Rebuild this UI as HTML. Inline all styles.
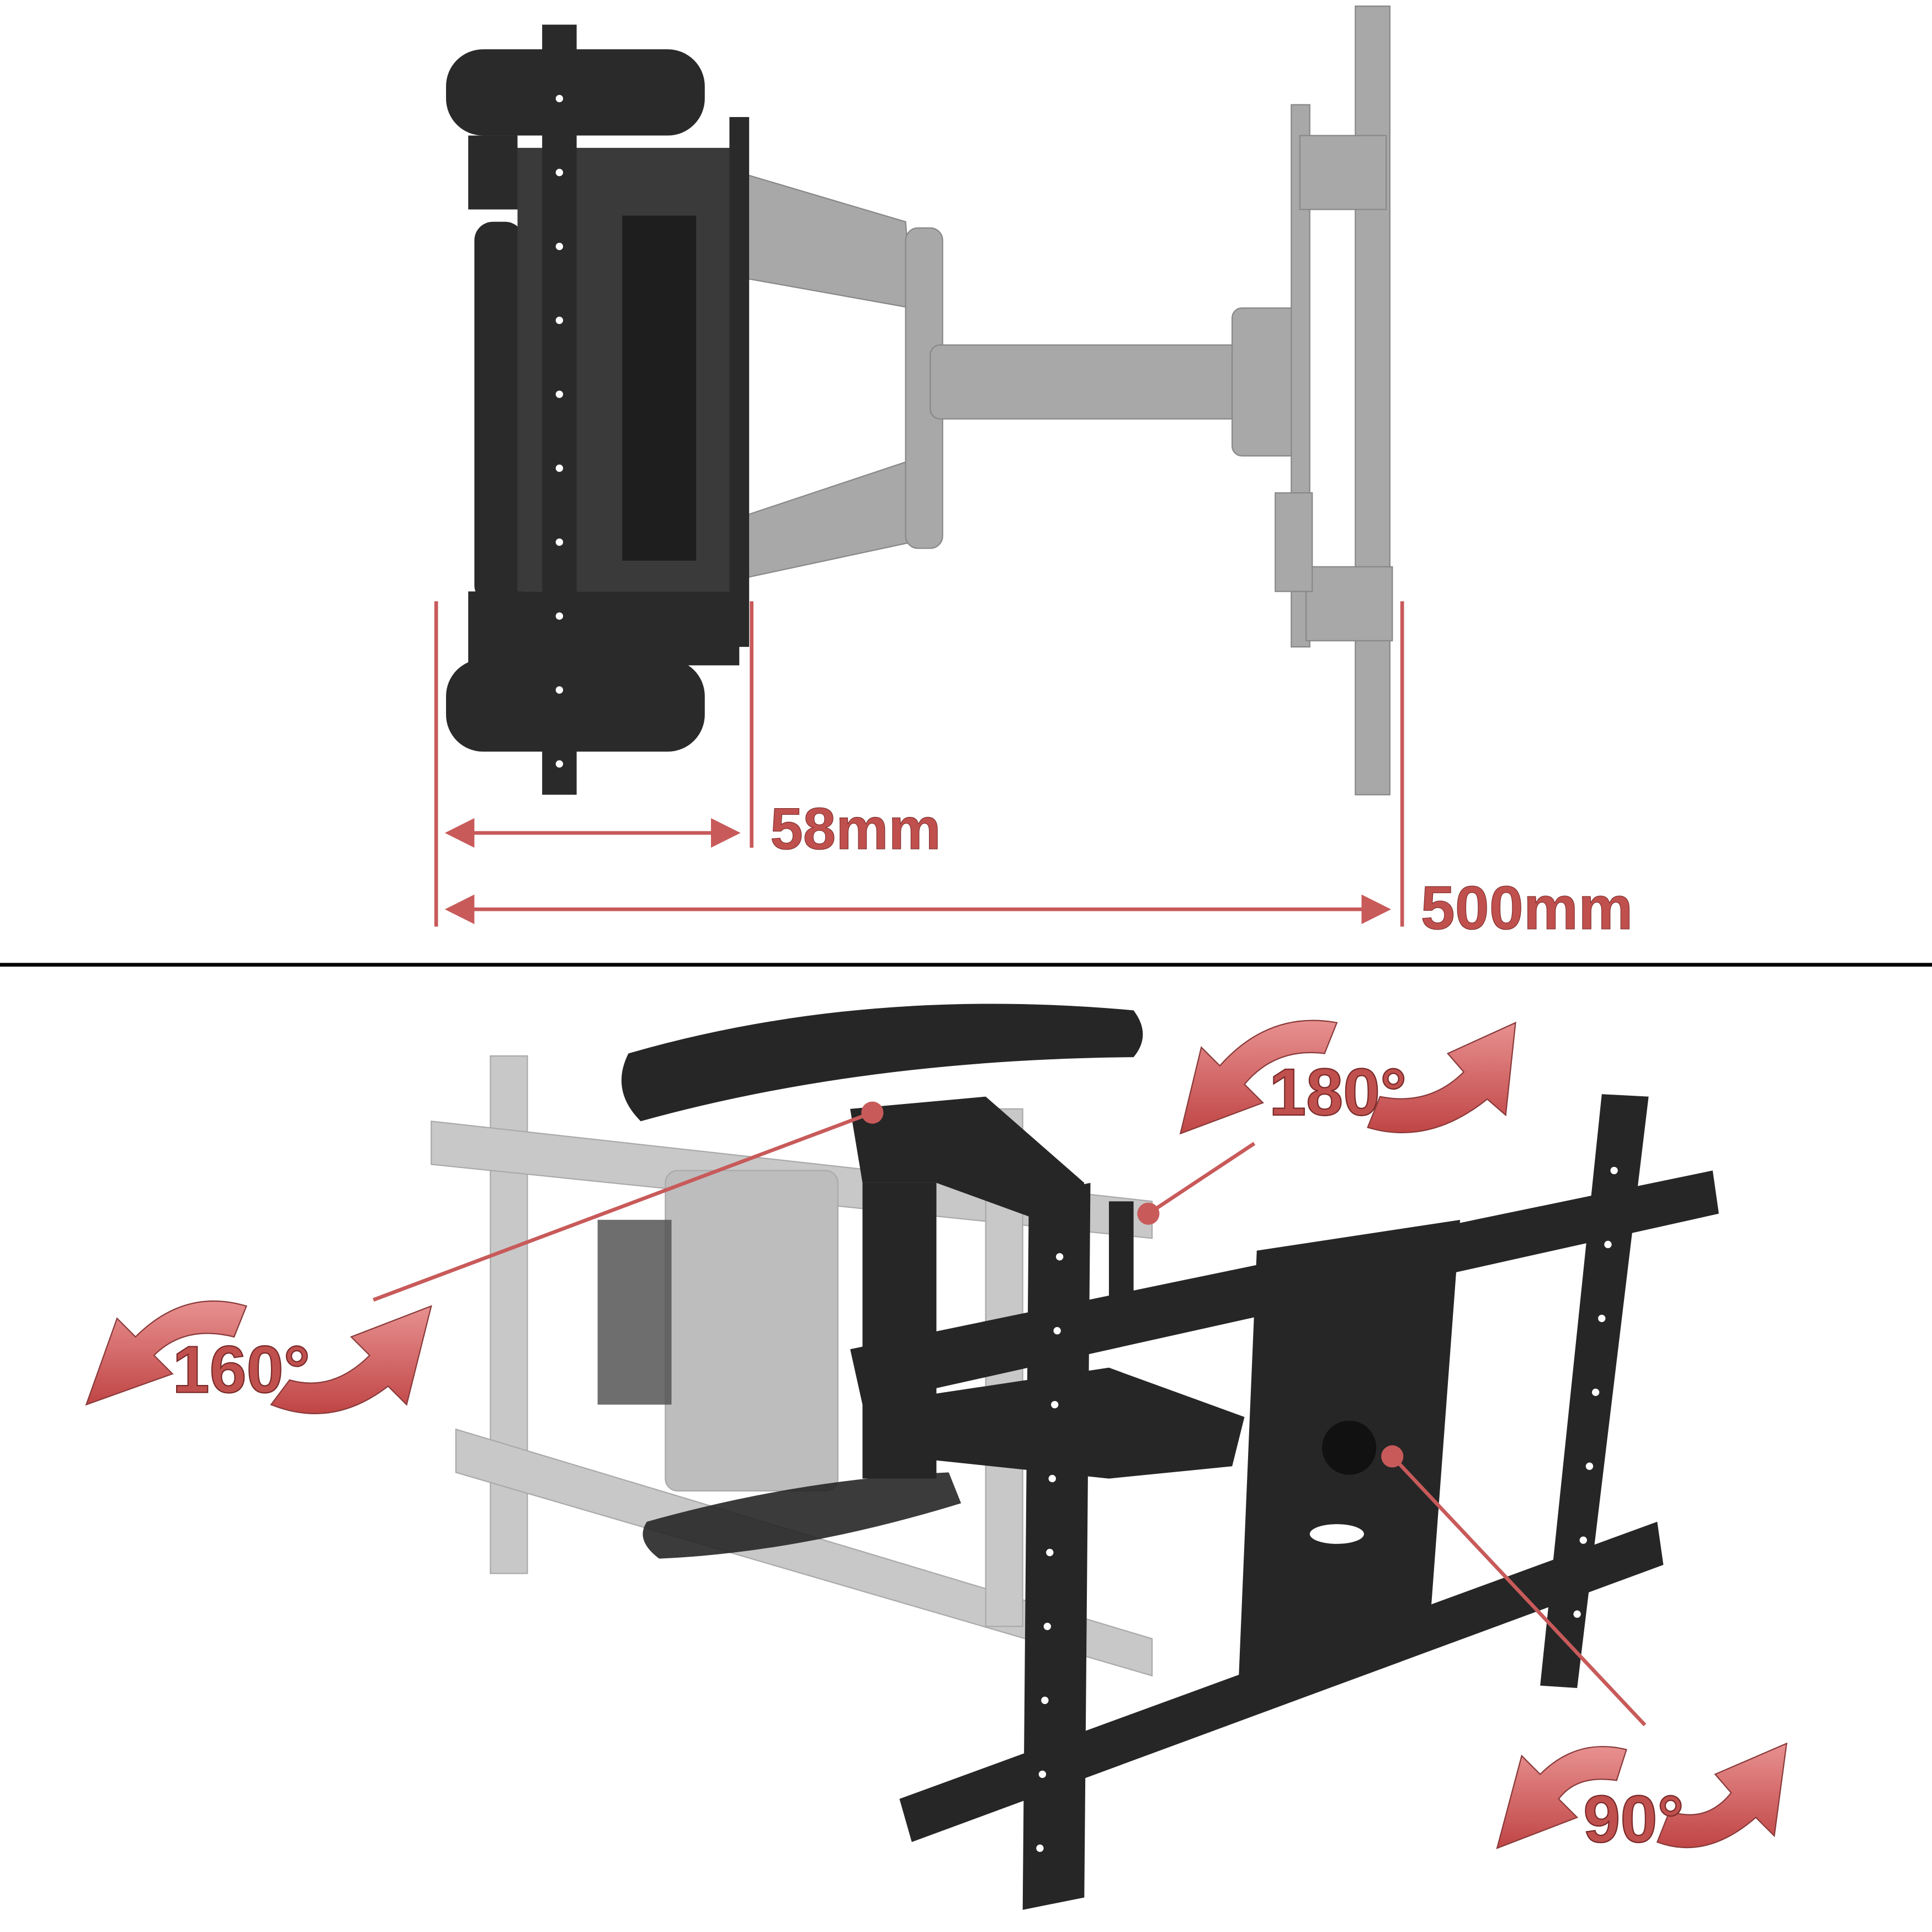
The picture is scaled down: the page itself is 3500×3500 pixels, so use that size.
<!DOCTYPE html>
<html><head><meta charset="utf-8"><style>
html,body{margin:0;padding:0;background:#fff;}
svg{display:block;}
text{font-family:"Liberation Sans",sans-serif;font-weight:bold;}
</style></head><body>
<svg width="3500" height="3500" viewBox="0 0 1568 1568" xmlns="http://www.w3.org/2000/svg">
<defs>
<linearGradient id="red" x1="0" y1="0" x2="0" y2="1"><stop offset="0" stop-color="#e89090"/><stop offset="1" stop-color="#c04545"/></linearGradient>
<marker id="ah" markerWidth="8" markerHeight="8" refX="7" refY="4" orient="auto-start-reverse" markerUnits="strokeWidth"><path d="M0,0 L8,4 L0,8 Z" fill="#c85a5a"/></marker>
</defs>
<rect width="1568" height="1568" fill="#fff"/>

<g fill="#a8a8a8" stroke="#888" stroke-width="1">
<path d="M600 140 L735 180 L740 250 L600 225 Z"/>
<path d="M600 420 L735 375 L740 440 L600 470 Z"/>
<rect x="735" y="185" width="30" height="260" rx="10"/>
<rect x="755" y="280" width="285" height="60" rx="8"/>
<rect x="1000" y="250" width="55" height="120" rx="8"/>
<rect x="1100" y="5" width="28" height="640"/>
<rect x="1048" y="85" width="15" height="440"/>
<rect x="1055" y="110" width="70" height="60"/>
<rect x="1060" y="460" width="70" height="60"/>
<rect x="1035" y="400" width="30" height="80"/>
</g>
<g fill="#2a2a2a">
<rect x="362" y="40" width="210" height="70" rx="30"/>
<rect x="362" y="535" width="210" height="75" rx="30"/>
<rect x="380" y="110" width="40" height="60"/>
<rect x="385" y="180" width="40" height="310" rx="15"/>
<rect x="420" y="120" width="180" height="360" fill="#3a3a3a"/>
<rect x="505" y="175" width="60" height="280" fill="#1e1e1e"/>
<rect x="380" y="480" width="220" height="60"/>
<rect x="440" y="20" width="28" height="625"/>
<rect x="592" y="95" width="16" height="430"/>
</g>
<g fill="#fff">
<circle cx="454" cy="80" r="3"/><circle cx="454" cy="140" r="3"/><circle cx="454" cy="200" r="3"/><circle cx="454" cy="260" r="3"/><circle cx="454" cy="320" r="3"/><circle cx="454" cy="380" r="3"/><circle cx="454" cy="440" r="3"/><circle cx="454" cy="500" r="3"/><circle cx="454" cy="560" r="3"/><circle cx="454" cy="620" r="3"/>
</g>

<g stroke="#c85a5a" stroke-width="3" fill="none">
<line x1="354" y1="488" x2="354" y2="752"/>
<line x1="610" y1="488" x2="610" y2="688"/>
<line x1="1138" y1="488" x2="1138" y2="752"/>
<line x1="364" y1="676" x2="598" y2="676" marker-start="url(#ah)" marker-end="url(#ah)"/>
<line x1="364" y1="738" x2="1126" y2="738" marker-start="url(#ah)" marker-end="url(#ah)"/>
</g>
<text x="625" y="689" font-size="48" fill="#c0504d" stroke="#7a2a2a" stroke-width="0.5">58mm</text>
<text x="1153" y="754" font-size="50" fill="#c0504d" stroke="#7a2a2a" stroke-width="0.5">500mm</text>

<line x1="0" y1="783" x2="1568" y2="783" stroke="#000" stroke-width="3"/>

<g fill="#c8c8c8" stroke="#aaa" stroke-width="1">
<rect x="398" y="857" width="30" height="420"/>
<path d="M350 910 L935 975 L935 1005 L350 945 Z"/>
<path d="M370 1160 L935 1330 L935 1360 L370 1195 Z"/>
<rect x="540" y="950" width="140" height="260" rx="10" fill="#bdbdbd"/>
<rect x="800" y="900" width="30" height="420"/>
</g>
<g fill="#555" opacity="0.85">
<rect x="485" y="990" width="60" height="150"/>
</g>
<g fill="#262626">
<path d="M510 855 Q700 800 920 820 Q935 840 920 858 Q700 860 520 910 Q495 885 510 855 Z"/>
<path d="M525 1235 Q650 1200 770 1195 L780 1220 Q650 1260 535 1265 Q515 1250 525 1235 Z" opacity="0.9"/>
<path d="M690 900 L800 890 L880 960 L870 1000 L760 960 L700 960 Z"/>
<rect x="700" y="960" width="60" height="240"/>
<rect x="900" y="975" width="20" height="90"/>
<path d="M690 1095 L1390 950 L1395 985 L700 1140 Z"/>
<path d="M730 1460 L1345 1235 L1350 1270 L740 1495 Z"/>
<path d="M1020 1015 L1185 990 L1160 1325 L1005 1370 Z"/>
<path d="M835 970 L885 960 L880 1540 L830 1550 Z"/>
<path d="M1300 888 L1338 890 L1280 1370 L1250 1368 Z"/>
<path d="M700 1140 L900 1110 L1010 1150 L1000 1190 L900 1200 L710 1180 Z"/>
</g>
<g fill="#fff">
<circle cx="1095" cy="1175" r="22" fill="#111"/>
<ellipse cx="1085" cy="1245" rx="22" ry="8"/>
<circle cx="860" cy="1020" r="3"/><circle cx="858" cy="1080" r="3"/><circle cx="856" cy="1140" r="3"/><circle cx="854" cy="1200" r="3"/><circle cx="852" cy="1260" r="3"/><circle cx="850" cy="1320" r="3"/><circle cx="848" cy="1380" r="3"/><circle cx="846" cy="1440" r="3"/><circle cx="844" cy="1500" r="3"/>
<circle cx="1310" cy="950" r="3"/><circle cx="1305" cy="1010" r="3"/><circle cx="1300" cy="1070" r="3"/><circle cx="1295" cy="1130" r="3"/><circle cx="1290" cy="1190" r="3"/><circle cx="1285" cy="1250" r="3"/><circle cx="1280" cy="1310" r="3"/>
</g>

<g stroke="#c85a5a" stroke-width="3">
<line x1="708" y1="903" x2="303" y2="1055"/>
<line x1="932" y1="985" x2="1018" y2="928"/>
<line x1="1130" y1="1182" x2="1335" y2="1400"/>
</g>
<g fill="#c85a5a"><circle cx="708" cy="903" r="9"/><circle cx="932" cy="985" r="9"/><circle cx="1130" cy="1182" r="9"/></g>

<g fill="url(#red)" stroke="#8a3a3a" stroke-width="1">
<path d="M70 1140 L95 1070 L110 1085 Q150 1045 200 1060 L190 1085 Q150 1075 125 1100 L140 1115 Z"/>
<path d="M350 1060 L330 1140 L315 1125 Q270 1160 220 1140 L235 1120 Q270 1130 300 1100 L285 1085 Z"/>
<path d="M958 920 L975 850 L990 865 Q1030 820 1085 830 L1075 855 Q1035 850 1010 880 L1025 895 Z"/>
<path d="M1230 830 L1222 905 L1207 892 Q1160 930 1110 915 L1120 890 Q1160 898 1188 870 L1175 855 Z"/>
<path d="M1215 1500 L1235 1425 L1250 1440 Q1280 1410 1320 1420 L1312 1445 Q1280 1440 1265 1460 L1280 1475 Z"/>
<path d="M1450 1415 L1440 1490 L1425 1475 Q1385 1510 1345 1495 L1355 1470 Q1385 1480 1405 1455 L1392 1440 Z"/>
</g>
<g font-size="54" fill="#c0504d" stroke="#7a2a2a" stroke-width="1">
<text x="140" y="1130">160°</text>
<text x="1030" y="905">180°</text>
<text x="1285" y="1495">90°</text>
</g>
</svg>
</body></html>
